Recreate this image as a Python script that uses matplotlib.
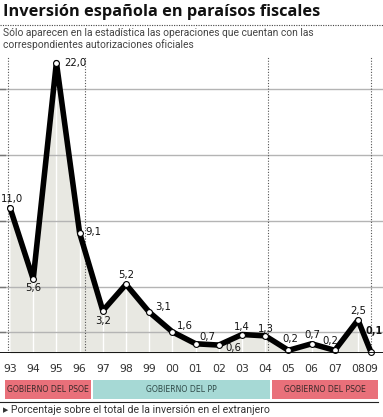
import matplotlib
matplotlib.use("Agg")
import matplotlib.pyplot as plt
from matplotlib.patches import Rectangle
from matplotlib.lines import Line2D

# datos: % de la inversión en el extranjero
years = ["93", "94", "95", "96", "97", "98", "99", "00", "01", "02",
         "03", "04", "05", "06", "07", "08", "09"]
x_pos = [0, 1, 2, 3, 4, 5, 6, 7, 8, 9, 10, 11, 12, 13, 14, 15, 15.55]
values = [11.0, 5.6, 22.0, 9.1, 3.2, 5.2, 3.1, 1.6, 0.7, 0.6,
          1.4, 1.3, 0.2, 0.7, 0.2, 2.5, 0.1]
grid_levels = [1.6, 5, 10, 15, 20]
markers_v = [0, 3.23, 11.12, 15.55]   # inicio, elecciones 96 y 04, fin

gov_labels = ["GOBIERNO DEL PSOE", "GOBIERNO DEL PP", "GOBIERNO DEL PSOE"]
gov_spans = [(-0.22, 3.49), (3.57, 11.21), (11.29, 15.86)]
gov_colors = ["#e9707a", "#a6d9d5", "#e9707a"]

# offsets de las etiquetas (px)
lab_off = [(2, 9), (0, -9), (8, 0), (6, 1), (0, -10), (0, 9), (6, 5), (4, 6),
           (4, 7), (7, -3), (0, 8), (1, 7), (2, 11), (1, 9), (-4, 9), (0, 9), (-5, 21)]
lab_ha = ["center", "center", "left", "left", "center", "center", "left", "left",
          "left", "left", "center", "center", "center", "center", "center", "center", "left"]

W, H = 383, 417
fig = plt.figure(figsize=(W / 100, H / 100), dpi=100)

font_narrow = ["Liberation Sans Narrow", "Roboto", "DejaVu Sans"]

# titulo
fig.text(3 / W, 1 - 12 / H, "Inversión española en paraísos fiscales",
         fontsize=11.8, fontweight="bold", family=["Open Sans", "DejaVu Sans"],
         va="center", ha="left", color="#111111")
fig.add_artist(Line2D([0, 1], [1 - 24.5 / H] * 2, color="#444444", lw=0.8,
                      ls=(0, (1, 1.2))))
fig.text(3 / W, 1 - 33 / H, "Sólo aparecen en la estadística las operaciones que cuentan con las",
         fontsize=7.4, family=font_narrow, va="center", color="#444444")
fig.text(3 / W, 1 - 45 / H, "correspondientes autorizaciones oficiales",
         fontsize=7.4, family=font_narrow, va="center", color="#444444")

# grafico principal
ax = fig.add_axes([0, (H - 353) / H, 1, 297 / H])
ax.set_xlim(-10 / 23.2, 373 / 23.2)
ax.set_ylim(0, 22.5)
for s in ax.spines.values():
    s.set_visible(False)

ax.fill_between(x_pos, values, 0, color="#e8e8e2", lw=0, zorder=1)
ax.vlines(x_pos[1:-1], 0, values[1:-1], color="white", lw=1, zorder=1.5)
for g in grid_levels:
    ax.axhline(g, color="#b4b4b4", lw=1, zorder=2)
    ax.plot([-0.43, -0.2], [g, g], color="#777777", lw=1, zorder=2)
for v in markers_v:
    ax.axvline(v - (0.1 if v == 0 else 0), color="#555555", lw=0.8,
               ls=(0, (1, 1.5)), zorder=2)

ax.plot(x_pos, values, color="black", lw=4, solid_joinstyle="round",
        solid_capstyle="round", zorder=3, clip_on=False)
ax.plot(x_pos, values, ls="none", marker="o", ms=4.2, mfc="white", mec="black",
        mew=0.8, zorder=4, clip_on=False)
ax.axhline(0, color="black", lw=2, zorder=5)

for i, v in enumerate(values):
    last = i == len(values) - 1
    dx, dy = lab_off[i]
    ax.annotate(f"{v:.1f}".replace(".", ","), (x_pos[i], v), xytext=(dx * 0.72, dy * 0.72),
                textcoords="offset points", ha=lab_ha[i], va="center",
                fontsize=6.9 if last else 7.3, color="#111111",
                fontweight="bold" if last else "normal",
                zorder=6, annotation_clip=False)

ax.set_yticks([])
ax.set_xticks(x_pos)
ax.set_xticklabels(years, fontsize=7.8, color="#333333")
ax.tick_params(axis="x", length=0, pad=8)

# franjas de gobierno
ax2 = fig.add_axes([0, (H - 399) / H, 1, 19 / H])
ax2.set_xlim(ax.get_xlim())
ax2.set_ylim(0, 1)
ax2.axis("off")
for (a, b), lab, col in zip(gov_spans, gov_labels, gov_colors):
    ax2.add_patch(Rectangle((a, 0), b - a, 1, color=col, lw=0))
    ax2.text((a + b) / 2, 0.5, lab, ha="center", va="center", fontsize=5.6,
             color="#3a2a2a" if col == "#e9707a" else "#2f4a48")

fig.add_artist(Line2D([0, 378 / W], [1 - 401.5 / H] * 2, color="#222222", lw=0.8))
fig.text(3 / W, 1 - 410 / H, "▸ Porcentaje sobre el total de la inversión en el extranjero",
         fontsize=7.6, family=font_narrow, va="center", color="#333333")

fig.savefig("out.png", dpi=100)
